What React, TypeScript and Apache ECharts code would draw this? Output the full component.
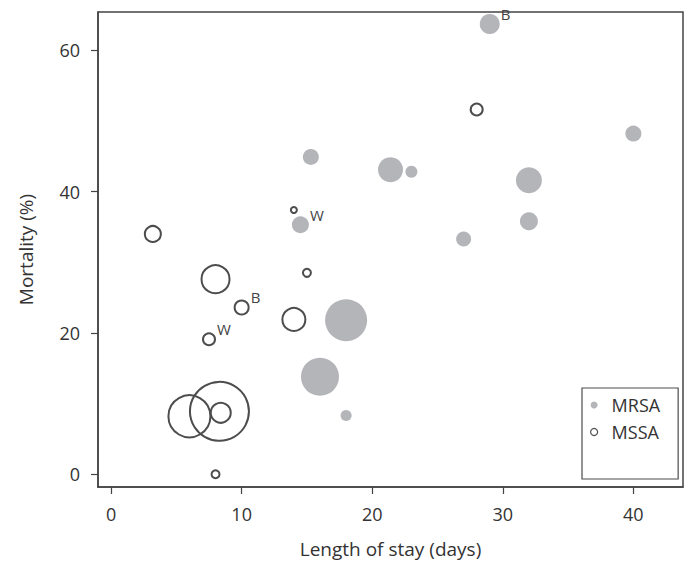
import React, { useEffect, useRef } from "react";
import * as echarts from "echarts";

// [length of stay (days), mortality (%), bubble diameter]
const mrsaData: number[][] = [
  [29.0, 63.7, 20],
  [40.0, 48.2, 16],
  [15.3, 44.9, 16],
  [21.4, 43.1, 25],
  [23.0, 42.8, 12],
  [32.0, 41.6, 26],
  [32.0, 35.8, 18],
  [27.0, 33.3, 15],
  [14.5, 35.3, 17],
  [18.0, 21.8, 42],
  [16.0, 13.8, 38],
  [18.0, 8.3, 11],
];
const mrsaLabels: string[] = ["B", "", "", "", "", "", "", "", "W", "", "", ""];

const mssaData: number[][] = [
  [28.0, 51.6, 12],
  [14.0, 37.4, 6],
  [3.2, 34.0, 16],
  [8.0, 27.6, 28],
  [10.0, 23.6, 14],
  [7.5, 19.1, 12],
  [14.0, 21.9, 23],
  [15.0, 28.5, 8],
  [6.0, 8.2, 42],
  [8.3, 8.9, 59],
  [8.4, 8.7, 20],
  [8.0, 0.0, 8],
];
const mssaLabels: string[] = ["", "", "", "", "B", "W", "", "", "", "", "", ""];

const xTicks: number[] = [0, 10, 20, 30, 40];
const yTicks: number[] = [0, 20, 40, 60];

const FONT = "'Open Sans', sans-serif";
const TEXT = "#333";
const AXIS = "#444";
const FILL = "#b4b5b9";
const STROKE = "#4d4d4d";

export default function App() {
  const ref = useRef<HTMLDivElement>(null);
  useEffect(() => {
    if (!ref.current) return;
    const chart = echarts.init(ref.current, undefined, { renderer: "svg" });
    const labelCfg = (labels: string[]) => ({
      show: true,
      position: "right",
      distance: 1,
      offset: [0, -10],
      formatter: (p: any) => labels[p.dataIndex],
      fontSize: 15,
      color: "#444",
      fontFamily: FONT,
    });
    chart.setOption({
      animation: false,
      textStyle: { fontFamily: FONT },
      grid: {
        left: 98,
        right: 7,
        top: 12,
        bottom: 76,
        show: true,
        borderColor: AXIS,
        borderWidth: 1.5,
      },
      legend: {
        orient: "vertical",
        left: 582,
        top: 388,
        padding: [8, 18, 38, 8],
        itemGap: 9,
        itemWidth: 7,
        itemHeight: 7,
        borderColor: STROKE,
        borderWidth: 1.2,
        textStyle: { fontSize: 18, color: TEXT, fontFamily: FONT, padding: [0, 0, 0, 9] },
        data: [
          { name: "MRSA", icon: "circle", itemStyle: { color: FILL, borderWidth: 0 } },
          {
            name: "MSSA",
            icon: "circle",
            itemStyle: { color: "rgba(0,0,0,0)", borderColor: STROKE, borderWidth: 1.2 },
          },
        ],
      },
      xAxis: {
        type: "value",
        min: -1,
        max: 43.8,
        name: "Length of stay (days)",
        nameLocation: "middle",
        nameGap: 52,
        nameTextStyle: { fontSize: 19, color: TEXT, fontFamily: FONT },
        axisLine: { show: true, onZero: false, lineStyle: { color: AXIS, width: 1.5 } },
        axisTick: { show: true, length: 7, customValues: xTicks, lineStyle: { color: AXIS, width: 1.2 } },
        axisLabel: { customValues: xTicks, margin: 18, fontSize: 18, color: TEXT, fontFamily: FONT },
        splitLine: { show: false },
      },
      yAxis: {
        type: "value",
        min: -1.8,
        max: 65.4,
        name: "Mortality (%)",
        nameLocation: "middle",
        nameGap: 63,
        nameTextStyle: { fontSize: 19, color: TEXT, fontFamily: FONT },
        axisLine: { show: true, onZero: false, lineStyle: { color: AXIS, width: 1.5 } },
        axisTick: { show: true, length: 7, customValues: yTicks, lineStyle: { color: AXIS, width: 1.2 } },
        axisLabel: { customValues: yTicks, margin: 18, fontSize: 18, color: TEXT, fontFamily: FONT },
        splitLine: { show: false },
      },
      series: [
        {
          name: "MRSA",
          type: "scatter",
          data: mrsaData,
          symbol: "circle",
          symbolSize: (v: number[]) => v[2],
          itemStyle: { color: FILL, opacity: 1 },
          label: labelCfg(mrsaLabels),
          clip: false,
        },
        {
          name: "MSSA",
          type: "scatter",
          data: mssaData,
          symbol: "circle",
          symbolSize: (v: number[]) => v[2],
          itemStyle: { color: "rgba(0,0,0,0)", borderColor: STROKE, borderWidth: 2, opacity: 1 },
          label: labelCfg(mssaLabels),
          clip: false,
        },
      ],
    });
    return () => chart.dispose();
  }, []);
  return (
    <div
      ref={ref}
      style={{ position: "fixed", left: 0, top: 0, width: 690, height: 563, background: "#fff" }}
    />
  );
}
